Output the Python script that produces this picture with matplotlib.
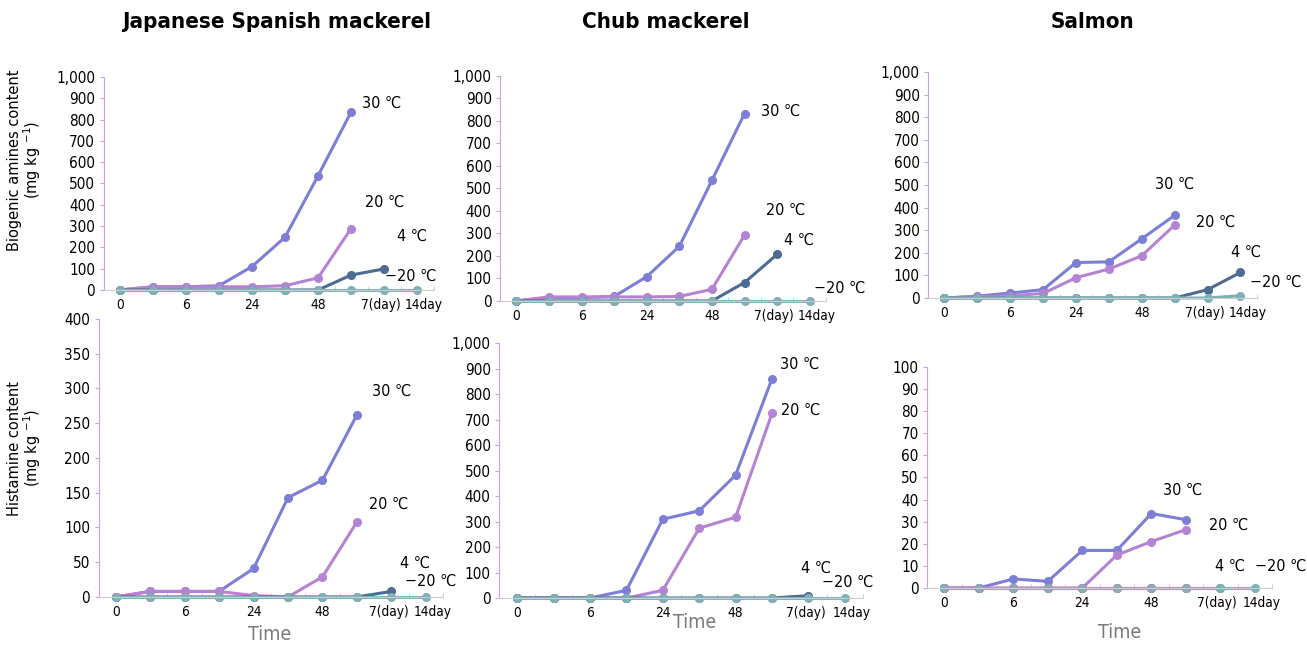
import matplotlib.pyplot as plt
from matplotlib import font_manager
from matplotlib.transforms import ScaledTranslation

# categories on the time axis (0h,3h,6h,12h,24h,36h,48h,72h,7day,14day)
time_idx = list(range(10))
tick_pos = [0, 2, 4, 6, 8, 9]
tick_labels = ["0", "6", "24", "48", "7(day)", "14day"]
temps = ["30 ℃", "20 ℃", "4 ℃", "−20 ℃"]

# biogenic amines (mg kg-1)
jsm_ba_30 = [0, 15, 15, 20, 110, 248, 536, 835]
jsm_ba_20 = [0, 15, 15, 15, 15, 20, 57, 288]
jsm_ba_4 = [0, 0, 0, 0, 0, 0, 0, 70, 99]
jsm_ba_m20 = [0, 0, 0, 0, 0, 0, 0, 0, 0, 0]

chub_ba_30 = [0, 15, 15, 20, 108, 243, 536, 833]
chub_ba_20 = [0, 18, 18, 18, 18, 20, 52, 293]
chub_ba_4 = [0, 0, 0, 0, 0, 0, 0, 82, 207]
chub_ba_m20 = [0, 0, 0, 0, 0, 0, 0, 0, 0, 0]

sal_ba_30 = [0, 8, 22, 37, 157, 160, 262, 366]
sal_ba_20 = [0, 5, 10, 20, 90, 128, 187, 323]
sal_ba_4 = [0, 0, 0, 0, 0, 0, 0, 0, 37, 113]
sal_ba_m20 = [0, 0, 0, 0, 0, 0, 0, 0, 0, 10]

# histamine (mg kg-1)
jsm_hi_30 = [0, 8, 8, 8, 41, 143, 168, 262]
jsm_hi_20 = [0, 8, 8, 8, 2, 0, 29, 108]
jsm_hi_4 = [0, 0, 0, 0, 0, 0, 0, 0, 8]
jsm_hi_m20 = [0, 0, 0, 0, 0, 0, 0, 0, 0, 0]

chub_hi_30 = [0, 0, 0, 30, 309, 342, 482, 860]
chub_hi_20 = [0, 0, 0, 0, 30, 274, 317, 724]
chub_hi_4 = [0, 0, 0, 0, 0, 0, 0, 0, 9]
chub_hi_m20 = [0, 0, 0, 0, 0, 0, 0, 0, 0, 0]

sal_hi_30 = [0, 0, 4.1, 3, 17, 17, 33.7, 30.9]
sal_hi_20 = [0, 0, 0, 0, 0, 14.9, 21, 26.4]
sal_hi_4 = [0, 0, 0, 0, 0, 0, 0, 0, 0]
sal_hi_m20 = [0, 0, 0, 0, 0, 0, 0, 0, 0, 0]

colors = ['#7d7ed6', '#b583d4', '#4d6b93', '#7fb0b8']

# look for a narrow face, the original uses a condensed one
fonts = font_manager.fontManager.ttflist
names = set(f.name for f in fonts)
if 'Liberation Sans Narrow' in names:
    fkw = dict(family=['Liberation Sans Narrow', 'DejaVu Sans'])
    shrink = 1.0
elif any(f.name == 'DejaVu Sans' and f.stretch == 'condensed' for f in fonts):
    fkw = dict(family=['DejaVu Sans'], stretch='condensed')
    shrink = 1.0
elif 'Roboto Condensed' in names:
    fkw = dict(family=['Roboto Condensed', 'DejaVu Sans'])
    shrink = 1.0
else:
    fkw = dict(family=['Roboto', 'DejaVu Sans'])
    shrink = 0.88

fig = plt.figure(figsize=(13.07, 6.46), dpi=100)

panels = [
    # rect, series, ymax, ystep, label spots (x idx, y value)
    ([0.0792, 0.5511, 0.2525, 0.3297], [jsm_ba_30, jsm_ba_20, jsm_ba_4, jsm_ba_m20], 1000, 100,
     [(7.33, 878), (7.42, 413), (8.4, 253), (8.03, 66)]),
    ([0.3826, 0.5341, 0.2494, 0.3483], [chub_ba_30, chub_ba_20, chub_ba_4, chub_ba_m20], 1000, 100,
     [(7.52, 844), (7.65, 404), (8.2, 271), (9.14, 58)]),
    ([0.7100, 0.5387, 0.2517, 0.3498], [sal_ba_30, sal_ba_20, sal_ba_4, sal_ba_m20], 1000, 100,
     [(6.4, 504), (7.65, 336), (8.7, 204), (9.3, 71)]),
    ([0.0754, 0.0759, 0.2636, 0.4303], [jsm_hi_30, jsm_hi_20, jsm_hi_4, jsm_hi_m20], 400, 50,
     [(7.44, 296), (7.35, 134), (8.26, 49), (8.4, 22)]),
    ([0.3818, 0.0743, 0.2785, 0.3947], [chub_hi_30, chub_hi_20, chub_hi_4, chub_hi_m20], 1000, 100,
     [(7.22, 918), (7.25, 737), (7.8, 118), (8.38, 63)]),
    ([0.7093, 0.0898, 0.2640, 0.3421], [sal_hi_30, sal_hi_20, sal_hi_4, sal_hi_m20], 100, 10,
     [(6.34, 44), (7.67, 28.5), (7.84, 10), (9.0, 10)]),
]

for rect, series, ymax, ystep, spots in panels:
    ax = fig.add_axes(rect)
    for s, c in zip(series, colors):
        ax.plot(time_idx[:len(s)], s, color=c, lw=2.2, marker='o', ms=5.5, clip_on=False)
    for t, (tx, ty) in zip(temps, spots):
        ax.text(tx, ty, t, fontsize=11.5 * shrink, va='center', ha='left', **fkw)
    ax.set_xlim(-0.5, 9.5)
    ax.set_ylim(0, ymax)
    yt = list(range(0, ymax + 1, ystep))
    ax.set_yticks(yt)
    ax.set_yticklabels([f"{v:,}" for v in yt], fontsize=11 * shrink, **fkw)
    ax.set_xticks(tick_pos)
    ax.set_xticklabels(tick_labels, fontsize=9.8 * shrink, **fkw)
    ax.set_xticks([i - 0.5 for i in range(11)], minor=True)
    ax.tick_params(axis='x', which='major', length=0, pad=6)
    ax.tick_params(axis='x', which='minor', length=3, direction='in', color='#c8c8c8')
    ax.tick_params(axis='y', length=3, color='#c9a3e0', pad=3)
    # the last two labels sit a bit apart in the original
    mt = ax.xaxis.get_major_ticks()
    for tk, dx in [(mt[-2], -3), (mt[-1], 7)]:
        tk.label1.set_transform(tk.label1.get_transform() +
                                ScaledTranslation(dx / 100, 0, fig.dpi_scale_trans))
    for sp in ['top', 'right']:
        ax.spines[sp].set_visible(False)
    ax.spines['left'].set_color('#c9a3e0')
    ax.spines['bottom'].set_color('#cccccc')
    ax.patch.set_alpha(0)

titles = ["Japanese Spanish mackerel", "Chub mackerel", "Salmon"]
title_x = [277, 666, 1093]
for t, x in zip(titles, title_x):
    fig.text(x / 1307, 1 - 22 / 646, t, ha='center', va='center', fontsize=16 * shrink,
             fontweight='bold', **fkw)

fig.text(25 / 1307, 1 - 160 / 646, "Biogenic amines content\n(mg kg $^{-1}$)", rotation=90,
         ha='center', va='center', fontsize=10.5, linespacing=1.0)
fig.text(25 / 1307, 1 - 448 / 646, "Histamine content\n(mg kg $^{-1}$)", rotation=90,
         ha='center', va='center', fontsize=10.5, linespacing=1.0)

for x, y in [(270, 635), (695, 622), (1120, 633)]:
    fig.text(x / 1307, 1 - y / 646, "Time", ha='center', va='center', fontsize=14 * shrink,
             color='#7a7a7a', **fkw)

fig.savefig('out.png', dpi=100)
